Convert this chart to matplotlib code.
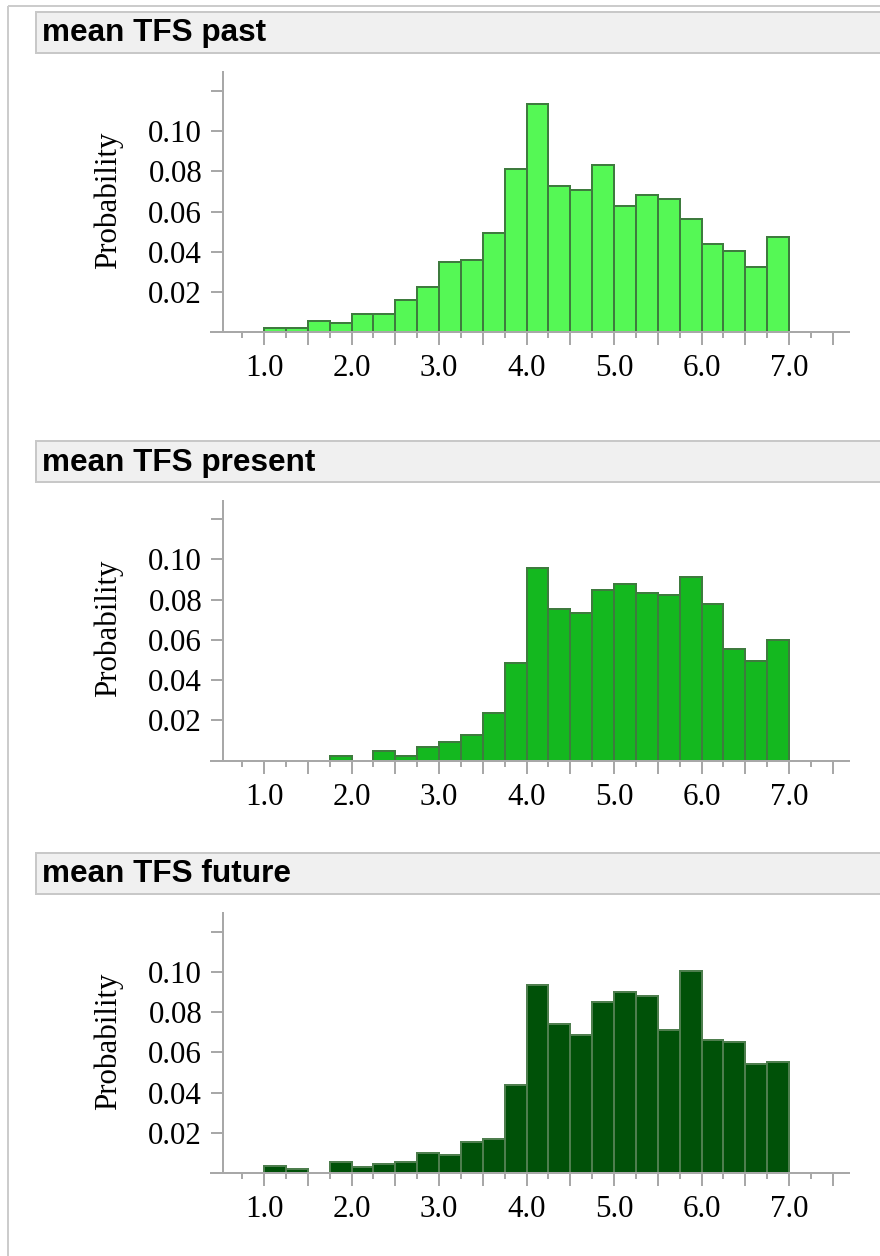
import numpy as np
import matplotlib
matplotlib.use("Agg")
import matplotlib.pyplot as plt
from matplotlib.patches import Rectangle

# ---------------- data ----------------
titles = ["mean TFS past", "mean TFS present", "mean TFS future"]
bin_width = 0.25
bin_starts = [1.0, 1.25, 1.5, 1.75, 2.0, 2.25, 2.5, 2.75, 3.0, 3.25, 3.5, 3.75,
              4.0, 4.25, 4.5, 4.75, 5.0, 5.25, 5.5, 5.75, 6.0, 6.25, 6.5, 6.75]
prob_past = [0.0020, 0.0020, 0.0058, 0.0045, 0.0091, 0.0091, 0.0159, 0.0225,
             0.0349, 0.0359, 0.0494, 0.0810, 0.1137, 0.0729, 0.0709, 0.0831,
             0.0630, 0.0684, 0.0663, 0.0562, 0.0438, 0.0403, 0.0326, 0.0473]
prob_present = [0.0, 0.0, 0.0, 0.0023, 0.0, 0.0050, 0.0023, 0.0069,
                0.0094, 0.0127, 0.0238, 0.0483, 0.0957, 0.0753, 0.0733, 0.0848,
                0.0878, 0.0835, 0.0823, 0.0912, 0.0778, 0.0553, 0.0495, 0.0599]
prob_future = [0.0033, 0.0021, 0.0, 0.0056, 0.0031, 0.0046, 0.0056, 0.0100,
               0.0089, 0.0155, 0.0169, 0.0438, 0.0936, 0.0742, 0.0687, 0.0848,
               0.0901, 0.0880, 0.0710, 0.1002, 0.0663, 0.0652, 0.0541, 0.0551]
series = [prob_past, prob_present, prob_future]
fill_colors = ["#55F855", "#14B81F", "#005108"]
edge_colors = ["#3E7B3E", "#3E7B3E", "#4E7E4E"]

y_ticks = [0.02, 0.04, 0.06, 0.08, 0.10, 0.12]
y_ticklabels = ["0.02", "0.04", "0.06", "0.08", "0.10", ""]
x_major = [1.0, 1.5, 2.0, 2.5, 3.0, 3.5, 4.0, 4.5, 5.0, 5.5, 6.0, 6.5, 7.0, 7.5]
x_major_labels = ["1.0", "", "2.0", "", "3.0", "", "4.0", "", "5.0", "", "6.0", "", "7.0", ""]
x_minor = [0.75, 1.25, 1.75, 2.25, 2.75, 3.25, 3.75, 4.25, 4.75, 5.25, 5.75,
           6.25, 6.75, 7.25]

# ---------------- layout (pixels) ----------------
W, H = 880, 1256
DPI = 100
fig = plt.figure(figsize=(W / DPI, H / DPI), dpi=DPI)
fig.patch.set_facecolor("white")

PX = 72.0 / DPI  # points per pixel
GRID = "#A8A8A8"
SERIF = ["Liberation Serif", "DejaVu Serif"]
SANS = ["Liberation Sans", "DejaVu Sans"]

# background layer for frame and headers
bg = fig.add_axes([0, 0, 1, 1])
bg.set_xlim(0, W)
bg.set_ylim(H, 0)
bg.axis("off")
bg.plot([7.5, 7.5], [6, H + 5], color="#CCCCCC", lw=2 * PX, solid_capstyle="butt")
bg.plot([7.5, W + 5], [6, 6], color="#CCCCCC", lw=2 * PX, solid_capstyle="butt")

headers = [(12, 53), (441, 482), (853, 894)]
baselines = [332.3, 760.6, 1173.0]
axis_left_px = 222.7
axis_right_px = 850.0
plot_h_px = 260.0
px_per_x = 87.5
px_per_y = 2012.0

for i in range(3):
    y0, y1 = headers[i]
    bg.add_patch(Rectangle((36, y0), W + 20 - 36, y1 - y0, facecolor="#F0F0F0",
                           edgecolor="#C8C8C8", lw=2 * PX))
    bg.text(42, (y0 + y1) / 2 + 1, titles[i], fontsize=31.5 * PX, fontweight="bold",
            family=SANS, va="center", ha="left", color="black")

    yb = baselines[i]
    rect = [axis_left_px / W, 1 - yb / H, (axis_right_px - axis_left_px) / W, plot_h_px / H]
    ax = fig.add_axes(rect)
    ax.set_facecolor("none")
    x_left = 1.0 - (264.0 - axis_left_px) / px_per_x
    x_right = 1.0 + (axis_right_px - 264.0) / px_per_x
    ax.set_xlim(x_left, x_right)
    ax.set_ylim(0, plot_h_px / px_per_y)

    vals = series[i]
    xs = [b for b, v in zip(bin_starts, vals) if v > 0]
    hs = [v for v in vals if v > 0]
    ax.bar(xs, hs, width=bin_width, align="edge", color=fill_colors[i],
           edgecolor=edge_colors[i], linewidth=2 * PX, zorder=3)

    for s in ["top", "right", "bottom"]:
        ax.spines[s].set_visible(False)
    ax.spines["left"].set_color(GRID)
    ax.spines["left"].set_linewidth(2 * PX)
    # x-axis line extending left past the y axis
    ext = 12.5 / (axis_right_px - axis_left_px)
    ax.plot([-ext, 1.0], [0, 0], transform=ax.transAxes, color=GRID,
            lw=2 * PX, clip_on=False, zorder=4, solid_capstyle="butt")

    ax.set_yticks(y_ticks)
    ax.set_yticklabels(y_ticklabels)
    ax.set_xticks(x_major)
    ax.set_xticklabels(x_major_labels)
    ax.set_xticks(x_minor, minor=True)
    ax.tick_params(axis="y", length=12.5 * PX, width=2 * PX, color=GRID,
                   pad=8 * PX, labelsize=31 * PX)
    ax.tick_params(axis="x", which="major", length=13.5 * PX, width=2 * PX,
                   color=GRID, pad=8.5 * PX, labelsize=31 * PX)
    ax.tick_params(axis="x", which="minor", length=6 * PX, width=2 * PX,
                   color=GRID)
    for lab in ax.get_xticklabels() + ax.get_yticklabels():
        lab.set_family(SERIF)
        lab.set_color("black")

    bg.text(108, yb - plot_h_px / 2 - 2, "Probability", rotation=90,
            fontsize=31 * PX, family=SERIF, va="center", ha="center", color="black")

fig.savefig("out.png", dpi=DPI)
